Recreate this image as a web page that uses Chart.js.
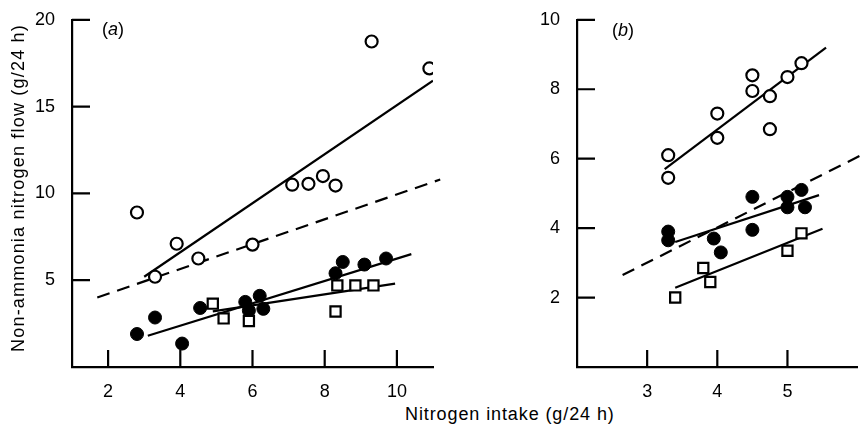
<!DOCTYPE html>
<html lang="en">
<head>
<meta charset="UTF-8">
<title>Non-ammonia nitrogen flow</title>
<script src="https://cdn.jsdelivr.net/npm/chart.js@4.4.1/dist/chart.umd.min.js"></script>
<style>
    body {
        margin: 0;
        background: #ffffff;
        width: 867px;
        height: 426px;
        position: relative;
        overflow: hidden;
        font-family: 'Liberation Sans', Arial, sans-serif;
        color: #000;
    }
    #chartA { position: absolute; left: 0; top: 0; }
    #chartB { position: absolute; left: 445px; top: 0; }
    .tag { position: absolute; font-size: 18px; line-height: 20px; }
    #xtitle {
        position: absolute; left: 405px; top: 403px;
        font-size: 18px; line-height: 22px; letter-spacing: 0.9px; white-space: nowrap;
    }
    #ytitle {
        position: absolute; left: -182px; top: 177px; width: 400px;
        font-size: 18px; line-height: 22px; letter-spacing: 1.2px;
        text-align: center; white-space: nowrap; transform: rotate(-90deg);
    }
</style>
</head>
<body>

<canvas id="chartA" width="445" height="400"></canvas>
<canvas id="chartB" width="422" height="400"></canvas>
<div class="tag" style="left:102px; top:19px;">(<i>a</i>)</div>
<div class="tag" style="left:612px; top:20px;">(<i>b</i>)</div>
<div id="ytitle">Non-ammonia nitrogen flow (g/24 h)</div>
<div id="xtitle">Nitrogen intake (g/24 h)</div>

<script>
// ---- panel (a) ----
const aTicksX = [2, 4, 6, 8, 10];
const aTicksY = [5, 10, 15, 20];

const aOpenX = [2.8, 3.3, 3.9, 4.5, 6.0, 7.1, 7.55, 7.95, 8.3, 9.3, 10.9];
const aOpenY = [8.9, 5.2, 7.1, 6.25, 7.05, 10.5, 10.55, 11.0, 10.45, 18.75, 17.2];
const aFilledX = [2.8, 3.3, 4.05, 4.55, 5.8, 5.9, 6.2, 6.3, 8.3, 8.5, 9.1, 9.7];
const aFilledY = [1.9, 2.85, 1.35, 3.4, 3.75, 3.25, 4.1, 3.35, 5.4, 6.05, 5.9, 6.25];
const aSquareX = [4.9, 5.2, 5.9, 8.3, 8.35, 8.85, 9.35];
const aSquareY = [3.65, 2.8, 2.65, 3.2, 4.7, 4.7, 4.7];

const aOpenFitX = [3.0, 11.0],   aOpenFitY = [5.2, 16.5];
const aFilledFitX = [3.1, 10.4], aFilledFitY = [1.8, 6.5];
const aSquareFitX = [4.9, 9.95], aSquareFitY = [3.2, 4.8];
const aDashX = [1.7, 11.2],      aDashY = [4.0, 10.8];

// ---- panel (b) ----
const bTicksX = [3, 4, 5];
const bTicksY = [2, 4, 6, 8, 10];

const bOpenX = [3.3, 3.3, 4.0, 4.0, 4.5, 4.5, 4.75, 4.75, 5.0, 5.2];
const bOpenY = [6.1, 5.45, 7.3, 6.6, 8.4, 7.95, 7.8, 6.85, 8.35, 8.75];
const bFilledX = [3.3, 3.3, 3.95, 4.05, 4.5, 4.5, 5.0, 5.0, 5.2, 5.25];
const bFilledY = [3.9, 3.65, 3.7, 3.3, 4.9, 3.95, 4.9, 4.6, 5.1, 4.6];
const bSquareX = [3.4, 3.8, 3.9, 5.0, 5.2];
const bSquareY = [2.0, 2.85, 2.45, 3.35, 3.85];

const bOpenFitX = [3.25, 5.55],  bOpenFitY = [5.7, 9.2];
const bFilledFitX = [3.4, 5.45], bFilledFitY = [3.6, 4.95];
const bSquareFitX = [3.4, 5.5],  bSquareFitY = [2.28, 3.98];
const bDashX = [2.65, 6.05],     bDashY = [2.65, 6.1];

function pts(xs, ys) {
    return xs.map((x, i) => ({ x: x, y: ys[i] }));
}

function markers(xs, ys, kind) {
    const base = { type: 'scatter', data: pts(xs, ys), borderColor: '#000' };
    if (kind === 'open') return Object.assign(base, { pointStyle: 'circle', pointRadius: 6, borderWidth: 2.2, backgroundColor: '#fff' });
    if (kind === 'filled') return Object.assign(base, { pointStyle: 'circle', pointRadius: 6.5, borderWidth: 1, backgroundColor: '#000' });
    return Object.assign(base, { pointStyle: 'rect', pointRadius: 7.2, borderWidth: 2.2, backgroundColor: '#fff' });
}

function fitLine(xs, ys, dashed) {
    return {
        type: 'line', data: pts(xs, ys), borderColor: '#000', borderWidth: 2.2,
        pointRadius: 0, fill: false, borderDash: dashed ? [13, 8] : [], clip: dashed ? false : undefined
    };
}

// ticks pointing into the plot, like the original figure
const inwardTicks = {
    id: 'inwardTicks',
    afterDraw(chart) {
        const { ctx, scales: { x, y } } = chart;
        ctx.save();
        ctx.strokeStyle = '#000';
        ctx.lineWidth = 2.2;
        ctx.beginPath();
        x.ticks.forEach(t => {
            const p = x.getPixelForValue(t.value);
            ctx.moveTo(p, x.top);
            ctx.lineTo(p, x.top - 17);
        });
        y.ticks.forEach(t => {
            const p = y.getPixelForValue(t.value);
            ctx.moveTo(y.right, p);
            ctx.lineTo(y.right + 18, p);
        });
        ctx.stroke();
        ctx.restore();
    }
};

function makeScales(xMin, xMax, xTicks, yMax, yTicks, yWidth) {
    return {
        x: {
            type: 'linear', min: xMin, max: xMax,
            grid: { display: false },
            border: { display: true, color: '#000', width: 2.2 },
            ticks: { color: '#000', font: { size: 18 }, padding: 6, autoSkip: false, maxRotation: 0 },
            afterBuildTicks: s => { s.ticks = xTicks.map(v => ({ value: v })); },
            afterFit: s => { s.height = 33; }
        },
        y: {
            type: 'linear', min: 0, max: yMax,
            grid: { display: false },
            border: { display: true, color: '#000', width: 2.2 },
            ticks: { color: '#000', font: { size: 18 }, padding: 9, autoSkip: false },
            afterBuildTicks: s => { s.ticks = yTicks.map(v => ({ value: v })); },
            afterFit: s => { s.width = yWidth; }
        }
    };
}

function baseOptions(scales, padRight) {
    return {
        responsive: false,
        animation: false,
        layout: { padding: { top: 15, right: padRight, left: 0, bottom: 0 } },
        plugins: { legend: { display: false }, tooltip: { enabled: false } },
        scales: scales
    };
}

Chart.defaults.font.family = "'Liberation Sans', Arial, sans-serif";

new Chart(document.getElementById('chartA'), {
    type: 'scatter',
    data: {
        datasets: [
            markers(aOpenX, aOpenY, 'open'),
            markers(aSquareX, aSquareY, 'square'),
            markers(aFilledX, aFilledY, 'filled'),
            fitLine(aOpenFitX, aOpenFitY, false),
            fitLine(aFilledFitX, aFilledFitY, false),
            fitLine(aSquareFitX, aSquareFitY, false),
            fitLine(aDashX, aDashY, true)
        ]
    },
    options: baseOptions(makeScales(1, 11, aTicksX, 20, aTicksY, 72), 12),
    plugins: [inwardTicks]
});

new Chart(document.getElementById('chartB'), {
    type: 'scatter',
    data: {
        datasets: [
            markers(bOpenX, bOpenY, 'open'),
            markers(bSquareX, bSquareY, 'square'),
            markers(bFilledX, bFilledY, 'filled'),
            fitLine(bOpenFitX, bOpenFitY, false),
            fitLine(bFilledFitX, bFilledFitY, false),
            fitLine(bSquareFitX, bSquareFitY, false),
            fitLine(bDashX, bDashY, true)
        ]
    },
    options: baseOptions(makeScales(2, 6, bTicksX, 10, bTicksY, 132), 2),
    plugins: [inwardTicks]
});
</script>

</body>
</html>
